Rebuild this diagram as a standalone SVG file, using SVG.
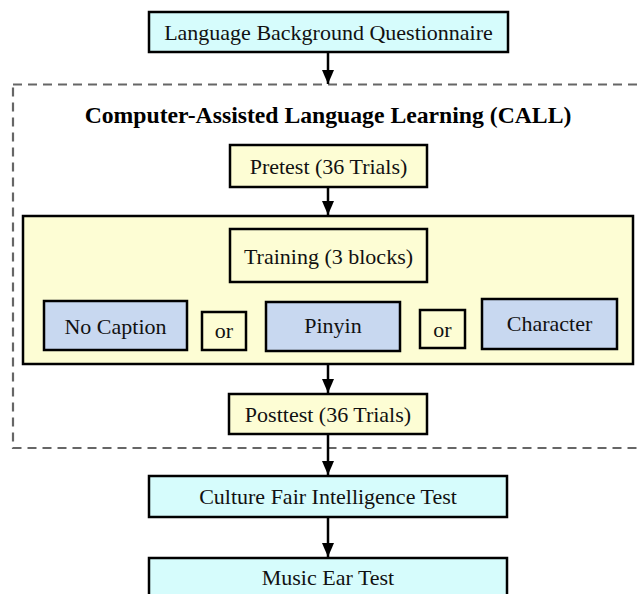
<svg xmlns="http://www.w3.org/2000/svg" width="641" height="594" viewBox="0 0 641 594">
<defs>
<marker id="ah" markerUnits="userSpaceOnUse" markerWidth="14" markerHeight="14" viewBox="0 0 14 14" refX="14" refY="7" orient="auto">
<path d="M0,1 L14,7 L0,13 Z" fill="#000"/>
</marker>
<style>
.box{stroke:#000;stroke-width:2.5}
.cy{fill:#d6fcfc}
.ye{fill:#fdfdd4}
.bl{fill:#c8d8f0}
.t{font-family:"Liberation Serif","Times New Roman",serif;font-size:22px;fill:#111;text-anchor:middle}
.title{font-family:"Liberation Serif","Times New Roman",serif;font-size:23.7px;font-weight:bold;fill:#000;text-anchor:middle}
.con{stroke:#000;stroke-width:2.5;fill:none;marker-end:url(#ah)}
</style>
</defs>
<rect width="641" height="594" fill="#fff"/>
<g id="call-cluster">
<rect x="13" y="84.5" width="640" height="363.5" fill="none" stroke="#666" stroke-width="2.2" stroke-dasharray="9,6"/>
<text class="title" x="328" y="123">Computer-Assisted Language Learning (CALL)</text>
</g>
<g id="connectors">
<line class="con" x1="328" y1="52" x2="328" y2="84"/>
<line class="con" x1="328" y1="187" x2="328" y2="215"/>
<line class="con" x1="328" y1="364" x2="328" y2="393"/>
<line class="con" x1="328" y1="434" x2="328" y2="475"/>
<line class="con" x1="328" y1="517" x2="328" y2="557"/>
</g>
<g id="questionnaire">
<rect class="box cy" x="149" y="12" width="359" height="40"/>
<text class="t" x="328.5" y="39.5">Language Background Questionnaire</text>
</g>
<g id="pretest">
<rect class="box ye" x="230" y="145" width="197" height="42"/>
<text class="t" x="328.5" y="173.5">Pretest (36 Trials)</text>
</g>
<g id="training-group">
<rect class="box ye" x="23" y="216" width="610" height="148"/>
</g>
<g id="training">
<rect class="box ye" x="230" y="229" width="197" height="53"/>
<text class="t" x="328.5" y="264">Training (3 blocks)</text>
</g>
<g id="no-caption">
<rect class="box bl" x="44" y="301" width="143" height="49"/>
<text class="t" x="115.5" y="334">No Caption</text>
</g>
<g id="or1">
<rect class="box ye" x="202" y="312" width="44" height="38"/>
<text class="t" x="224" y="338">or</text>
</g>
<g id="pinyin">
<rect class="box bl" x="266" y="302" width="134" height="49"/>
<text class="t" x="333" y="333">Pinyin</text>
</g>
<g id="or2">
<rect class="box ye" x="420" y="310" width="45" height="38"/>
<text class="t" x="442.5" y="337">or</text>
</g>
<g id="character">
<rect class="box bl" x="482" y="299" width="135" height="50"/>
<text class="t" x="549.5" y="331">Character</text>
</g>
<g id="posttest">
<rect class="box ye" x="229" y="394" width="198" height="40"/>
<text class="t" x="328" y="422">Posttest (36 Trials)</text>
</g>
<g id="culture-fair">
<rect class="box cy" x="149" y="476" width="358" height="41"/>
<text class="t" x="328" y="504">Culture Fair Intelligence Test</text>
</g>
<g id="music-ear">
<rect class="box cy" x="149" y="558" width="358" height="45"/>
<text class="t" x="328" y="585">Music Ear Test</text>
</g>
</svg>
